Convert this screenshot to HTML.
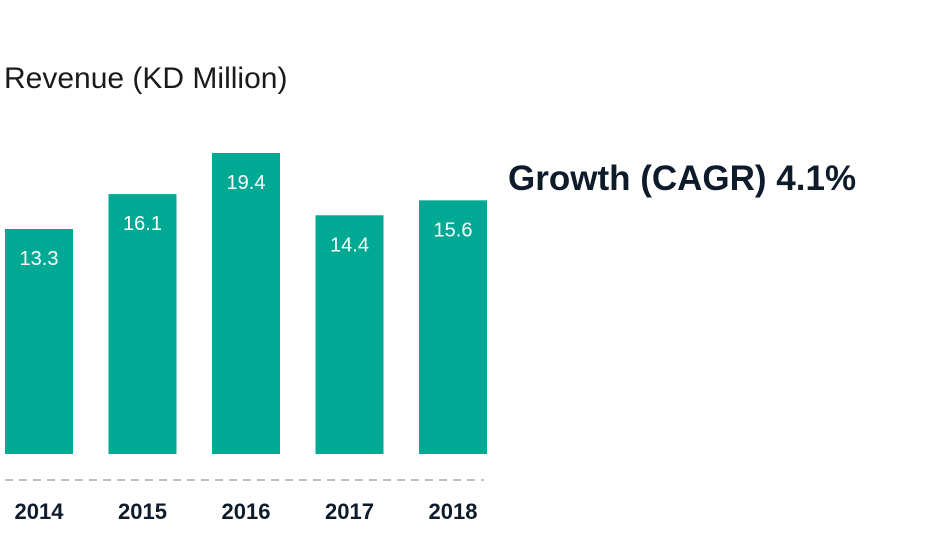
<!DOCTYPE html>
<html><head><meta charset="utf-8"><style>
body{margin:0;width:940px;height:528px;background:#fff;overflow:hidden;font-family:"Liberation Sans",sans-serif}
</style></head><body>
<svg width="940" height="528">
<text x="4" y="88" font-size="30" fill="#1a1a1a">Revenue (KD Million)</text>
<text x="508" y="190" font-size="35" font-weight="bold" fill="#0d1b2a">Growth (CAGR) 4.1%</text>
<line x1="5" y1="480" x2="484" y2="480" stroke="#bdbdbd" stroke-width="2" stroke-dasharray="8,6"/>
<g id="bars"></g>
</svg>
<script>
const categories=["2014","2015","2016","2017","2018"];
const values=[13.3,16.1,19.4,14.4,15.6];
const valueLabels=["13.3","16.1","19.4","14.4","15.6"];
const base=454;
function y(v){return base-(59.3+12.46*v);}
function x(i){return 5+i*103.5;}
const g=document.getElementById('bars');
const ns="http://www.w3.org/2000/svg";
categories.forEach((c,i)=>{
 const r=document.createElementNS(ns,'rect');
 
 
 r.setAttribute('x',x(i));r.setAttribute('y',y(values[i]));
 r.setAttribute('width',68);r.setAttribute('height',base-y(values[i]));
 r.setAttribute('fill','#00a994');g.appendChild(r);
 const t=document.createElementNS(ns,'text');
 
 
 t.setAttribute('x',x(i)+34);t.setAttribute('y',y(values[i])+36);
 t.setAttribute('text-anchor','middle');t.setAttribute('font-size','20');t.setAttribute('fill','#fff');
 t.textContent=valueLabels[i];g.appendChild(t);
 const l=document.createElementNS(ns,'text');
 
 
 l.setAttribute('x',x(i)+34);l.setAttribute('y',519);
 l.setAttribute('text-anchor','middle');l.setAttribute('font-size','22');l.setAttribute('font-weight','bold');l.setAttribute('fill','#0d1b2a');
 l.textContent=c;g.appendChild(l);
});
</script>
</body></html>
